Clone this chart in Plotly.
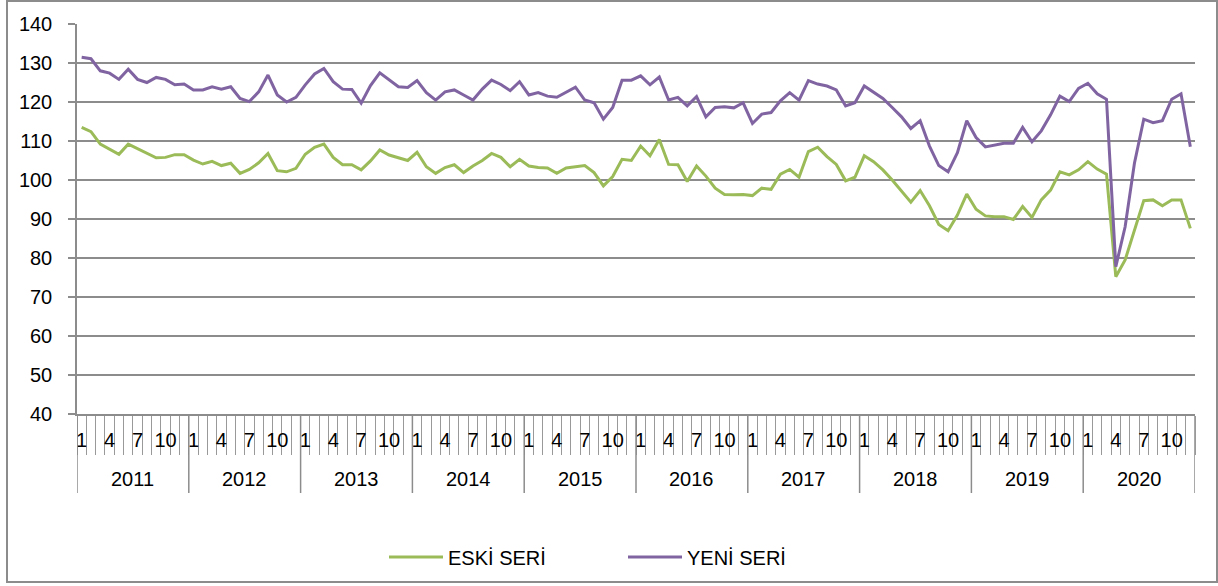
import plotly.graph_objects as go

years = [2011, 2012, 2013, 2014, 2015, 2016, 2017, 2018, 2019, 2020]
months = list(range(1, 13))
month_labels = {1: "1", 4: "4", 7: "7", 10: "10"}

eski_seri = [
    113.5, 112.4, 109.2, 107.9, 106.6, 109.2, 108.0, 106.8, 105.7, 105.8, 106.5, 106.5,
    105.1, 104.1, 104.8, 103.7, 104.3, 101.7, 102.7, 104.4, 106.8, 102.4, 102.1, 103.0,
    106.6, 108.4, 109.2, 105.8, 103.9, 103.9, 102.6, 104.9, 107.7, 106.4, 105.6, 105.0,
    107.1, 103.4, 101.7, 103.2, 103.9, 101.9, 103.6, 105.0, 106.8, 105.8, 103.4, 105.3,
    103.6, 103.2, 103.1, 101.7, 103.1, 103.4, 103.7, 101.9, 98.5, 100.9, 105.3, 105.0,
    108.7, 106.2, 110.4, 104.0, 103.9, 99.6, 103.6, 101.0, 97.9, 96.3, 96.2, 96.3,
    96.0, 97.9, 97.6, 101.5, 102.7, 100.7, 107.3, 108.4, 106.0, 104.0, 99.8, 100.7,
    106.2, 104.7, 102.6, 100.0, 97.0, 94.3, 97.3, 93.4, 88.6, 87.0, 91.0, 96.4,
    92.5, 90.8, 90.6, 90.6, 89.9, 93.2, 90.4, 94.9, 97.4, 102.1, 101.3, 102.6,
    104.7, 102.8, 101.5, 75.2, 79.5, 87.2, 94.7, 94.9, 93.4, 94.9, 94.9, 87.6,
]

yeni_seri = [
    131.5, 131.1, 128.0, 127.4, 125.8, 128.4, 125.8, 125.0, 126.3, 125.8, 124.4, 124.6,
    123.1, 123.1, 123.9, 123.3, 123.9, 120.9, 120.1, 122.6, 126.9, 121.8, 120.0, 121.2,
    124.4, 127.2, 128.6, 125.2, 123.3, 123.2, 119.7, 124.2, 127.5, 125.6, 123.9, 123.7,
    125.5, 122.4, 120.5, 122.6, 123.1, 121.8, 120.5, 123.3, 125.6, 124.5, 122.9, 125.2,
    121.8, 122.4, 121.5, 121.2, 122.4, 123.8, 120.5, 119.8, 115.6, 118.6, 125.6, 125.6,
    126.7, 124.4, 126.4, 120.5, 121.2, 119.0, 121.4, 116.2, 118.6, 118.8, 118.5, 119.8,
    114.5, 116.9, 117.3, 120.3, 122.4, 120.5, 125.5, 124.6, 124.1, 123.1, 119.0, 119.8,
    124.1, 122.6, 120.9, 118.6, 116.2, 113.2, 115.2, 108.7, 103.7, 102.1, 107.0, 115.2,
    110.9, 108.5, 108.9, 109.4, 109.4, 113.5, 109.8, 112.6, 116.7, 121.5, 120.1, 123.5,
    124.8, 122.1, 120.7, 77.8, 88.0, 104.3, 115.6, 114.7, 115.2, 120.7, 122.1, 108.5,
]

categories = [f"{y}-{m}" for y in years for m in months]
tick_text = [month_labels.get(m, "") for y in years for m in months]

GREEN = "#9bbb59"
PURPLE = "#8064a2"
GRID = "#8c8c8c"
FONT = "Liberation Sans, Arial, sans-serif"
FS = 20

W, H = 1218, 586
ML, MR, MT, MB = 77, 23, 24, 172
PW, PH = W - ML - MR, H - MT - MB

def px_x(px):
    return (px - ML) / PW

def px_y(py):
    return (H - MB - py) / PH

fig = go.Figure()
fig.add_trace(go.Scatter(x=categories, y=eski_seri, mode="lines", name="ESKİ SERİ",
                         line=dict(color=GREEN, width=3), legend="legend", showlegend=True))
fig.add_trace(go.Scatter(x=categories, y=yeni_seri, mode="lines", name="YENİ SERİ",
                         line=dict(color=PURPLE, width=3), legend="legend2", showlegend=True))

shapes = []
n = len(categories)
for k in range(len(years) + 1):
    shapes.append(dict(type="line", xref="x", yref="paper",
                       x0=12 * k - 0.5, x1=12 * k - 0.5, y0=0, y1=px_y(493),
                       line=dict(color=GRID, width=1.5)))
# outer border
shapes.append(dict(type="rect", xref="paper", yref="paper",
                   x0=px_x(7), x1=px_x(1217), y0=px_y(582), y1=px_y(1),
                   line=dict(color=GRID, width=2), fillcolor="rgba(0,0,0,0)"))

annotations = []
for k, yr in enumerate(years):
    annotations.append(dict(x=12 * k + 5.5, y=px_y(479), xref="x", yref="paper",
                            text=str(yr), showarrow=False, xanchor="center", yanchor="middle",
                            font=dict(family=FONT, size=FS, color="black")))

fig.update_layout(
    width=W, height=H,
    margin=dict(l=ML, r=MR, t=MT, b=MB, autoexpand=False),
    paper_bgcolor="white", plot_bgcolor="white",
    font=dict(family=FONT, size=FS, color="black"),
    showlegend=True,
    shapes=shapes, annotations=annotations,
    legend=dict(orientation="h", x=px_x(384), y=px_y(557), xanchor="left", yanchor="middle",
                itemwidth=54, font=dict(family=FONT, size=FS, color="black"),
                bgcolor="rgba(0,0,0,0)"),
    legend2=dict(orientation="h", x=px_x(623), y=px_y(557), xanchor="left", yanchor="middle",
                 itemwidth=54, font=dict(family=FONT, size=FS, color="black"),
                 bgcolor="rgba(0,0,0,0)"),
)

fig.update_xaxes(
    type="category", range=[-0.5, n - 0.5], automargin=False,
    tickmode="array", tickvals=categories, ticktext=tick_text, tickangle=0,
    tickson="boundaries", ticks="outside", ticklen=39, tickwidth=1, tickcolor="#999999",
    ticklabelstandoff=7,
    showgrid=False, showline=True, linecolor=GRID, linewidth=1.5,
    tickfont=dict(family=FONT, size=FS, color="black"),
)
fig.update_yaxes(
    range=[40, 140], tick0=40, dtick=10, automargin=False,
    showgrid=True, gridcolor=GRID, gridwidth=1.5,
    showline=True, linecolor=GRID, linewidth=1.5,
    ticks="outside", ticklen=7, tickcolor=GRID, tickwidth=1.5,
    ticklabelstandoff=12, zeroline=False,
    tickfont=dict(family=FONT, size=FS, color="black"),
)

fig.write_html("out.html",
               config={"displayModeBar": False},
               post_script="document.body.style.margin='0';document.body.style.overflow='hidden';")
